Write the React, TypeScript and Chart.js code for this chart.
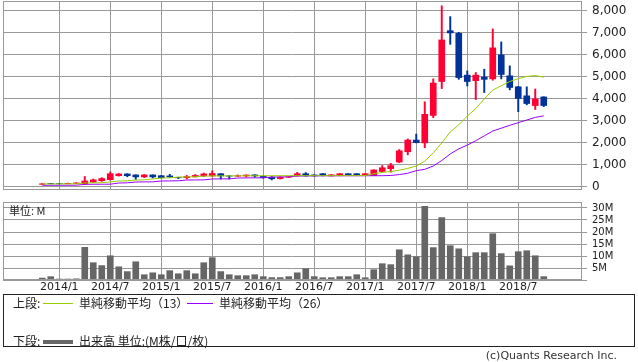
import React, { useEffect, useRef } from 'react';
import { Chart, registerables } from 'chart.js';

Chart.register(...registerables);

// ---- data ----
const months = [
  '2013/11', '2013/12',
  '2014/1', '2014/2', '2014/3', '2014/4', '2014/5', '2014/6', '2014/7', '2014/8', '2014/9', '2014/10', '2014/11', '2014/12',
  '2015/1', '2015/2', '2015/3', '2015/4', '2015/5', '2015/6', '2015/7', '2015/8', '2015/9', '2015/10', '2015/11', '2015/12',
  '2016/1', '2016/2', '2016/3', '2016/4', '2016/5', '2016/6', '2016/7', '2016/8', '2016/9', '2016/10', '2016/11', '2016/12',
  '2017/1', '2017/2', '2017/3', '2017/4', '2017/5', '2017/6', '2017/7', '2017/8', '2017/9', '2017/10', '2017/11', '2017/12',
  '2018/1', '2018/2', '2018/3', '2018/4', '2018/5', '2018/6', '2018/7', '2018/8', '2018/9', '2018/10',
];

const opens = [
  120, 155, 150, 145, 160, 130, 230, 280, 330, 510, 590, 545, 455, 545,
  510, 500, 430, 420, 460, 500, 500, 600, 500, 490, 500, 545,
  480, 440, 380, 440, 500, 600, 545, 600, 500, 510, 600, 600,
  540, 520, 700, 830, 1130, 1600, 2130, 2000, 3250, 4790, 7100, 6980,
  5080, 4830, 4990, 4910, 6000, 5050, 4550, 4140, 3700, 4090,
];
const highs = [
  150, 165, 160, 175, 190, 470, 360, 420, 680, 610, 600, 555, 560, 550,
  520, 570, 440, 520, 560, 630, 730, 600, 510, 545, 550, 550,
  500, 470, 460, 480, 660, 650, 550, 610, 560, 610, 605, 605,
  605, 780, 970, 1070, 1700, 2180, 2400, 3870, 4910, 8230, 7740, 7030,
  5270, 5200, 5350, 7180, 6590, 5500, 4570, 4550, 4450, 4100,
];
const lows = [
  110, 140, 135, 140, 150, 110, 200, 250, 310, 490, 460, 340, 420, 410,
  400, 440, 380, 360, 450, 480, 480, 360, 360, 470, 450, 440,
  400, 320, 360, 430, 490, 490, 490, 500, 495, 505, 530, 530,
  530, 515, 680, 670, 1100, 1460, 2000, 1780, 3150, 4470, 6480, 4890,
  4590, 3970, 4290, 4850, 4910, 4410, 3420, 3730, 3520, 3650,
];
const closes = [
  140, 145, 145, 160, 180, 270, 320, 380, 600, 590, 510, 455, 545, 455,
  420, 460, 415, 470, 520, 590, 610, 500, 490, 510, 540, 500,
  420, 370, 440, 460, 600, 500, 500, 510, 550, 600, 540, 540,
  600, 770, 870, 970, 1640, 2130, 2010, 3300, 4720, 6680, 7000, 4970,
  4790, 5080, 4890, 6320, 5110, 4520, 4020, 3790, 4000, 3700,
];

const ma13 = [
  132, 134, 136, 138, 140, 178, 184, 190, 227, 268, 278, 312, 322, 364,
  402, 412, 448, 455, 462, 492, 500, 502, 500, 503, 505, 506,
  507, 508, 509, 510, 510, 511, 511, 512, 512, 512, 513, 514,
  515, 600, 660, 700, 760, 840, 950, 1170, 1550, 2000, 2500, 2820,
  3220, 3560, 4000, 4400, 4600, 4790, 4920, 5020, 5060, 4990,
];
const ma26 = [
  74, 75, 76, 77, 78, 118, 120, 122, 124, 178, 186, 222, 228, 232,
  268, 273, 278, 314, 318, 322, 360, 364, 368, 404, 409, 412,
  414, 450, 455, 460, 495, 500, 502, 504, 505, 505, 506, 506,
  507, 508, 510, 520, 560, 620, 740, 800, 950, 1200, 1500, 1730,
  1900, 2100, 2320, 2540, 2670, 2800, 2920, 3040, 3160, 3230,
];

// volume in millions
const volumes = [
  0.8, 1.4, 0.4, 0.4, 0.5, 13.6, 7.2, 6.0, 10.1, 5.5, 3.5, 7.6, 2.2, 3.0,
  2.2, 3.9, 2.6, 3.9, 2.6, 7.2, 9.3, 3.5, 2.2, 1.8, 1.8, 2.2,
  1.4, 1.0, 1.0, 1.4, 3.0, 4.7, 1.4, 0.95, 0.95, 1.4, 1.4, 2.2,
  0.95, 4.3, 6.8, 6.4, 12.6, 10.5, 9.7, 30.7, 13.5, 26.0, 14.3, 13.0,
  9.7, 11.4, 11.4, 19.3, 11.0, 5.9, 11.8, 12.2, 10.1, 1.4,
];

const xTickLabels = ['2014/1', '2014/7', '2015/1', '2015/7', '2016/1', '2016/7', '2017/1', '2017/7', '2018/1', '2018/7'];
const priceTicks = [0, 1000, 2000, 3000, 4000, 5000, 6000, 7000, 8000];
const volumeTicks = [0, 5, 10, 15, 20, 25, 30];

// ---- styles ----
const UP = '#FF0033';
const DOWN = '#003399';
const GRID = '#999999';
const MA13_COLOR = '#99CC00';
const MA26_COLOR = '#9900FF';
const VOL_COLOR = '#666666';
const X_MIN = -4.62;
const X_MAX = 63.5;
const FONT = '"DejaVu Sans", sans-serif';

const framePlugin = {
  id: 'frame',
  afterDraw(chart: any) {
    const { ctx, chartArea: a } = chart;
    ctx.save();
    ctx.strokeStyle = GRID;
    ctx.lineWidth = 1;
    const l = Math.round(a.left) + 0.5;
    const t = Math.round(a.top) + 0.5;
    const r = Math.round(a.right) - 0.5;
    const b = Math.round(a.bottom) - 0.5;
    ctx.strokeRect(l, t, r - l, b - t);
    ctx.restore();
  },
};

const noPad = (s: any) => {
  s.paddingTop = 0;
  s.paddingBottom = 0;
  s.paddingLeft = 0;
  s.paddingRight = 0;
};

const candleColor = (ctx: any) => (closes[ctx.dataIndex] >= opens[ctx.dataIndex] ? UP : DOWN);

const monthTicks = () => xTickLabels.map((l) => ({ value: months.indexOf(l) }));

function PriceChart() {
  const ref = useRef<HTMLCanvasElement>(null);
  useEffect(() => {
    const chart = new Chart(ref.current as HTMLCanvasElement, {
      type: 'bar',
      data: {
        datasets: [
          {
            type: 'line',
            data: ma13.map((v, i) => ({ x: i, y: v })),
            borderColor: MA13_COLOR,
            borderWidth: 1,
            pointRadius: 0,
            tension: 0,
            order: 0,
          } as any,
          {
            type: 'line',
            data: ma26.map((v, i) => ({ x: i, y: v })),
            borderColor: MA26_COLOR,
            borderWidth: 1,
            pointRadius: 0,
            tension: 0,
            order: 0,
          } as any,
          {
            type: 'bar',
            data: months.map((_, i) => ({ x: i, y: [opens[i], closes[i]] })),
            backgroundColor: candleColor,
            barThickness: 6,
            grouped: false,
            order: 1,
          } as any,
          {
            type: 'bar',
            data: months.map((_, i) => ({ x: i, y: [lows[i], highs[i]] })),
            backgroundColor: candleColor,
            barThickness: 1.3,
            grouped: false,
            order: 2,
          } as any,
        ],
      },
      options: {
        animation: false,
        responsive: false,
        devicePixelRatio: 1,
        layout: { padding: { left: 3, top: 1, right: 0, bottom: 0 } },
        plugins: { legend: { display: false }, tooltip: { enabled: false } },
        scales: {
          x: {
            type: 'linear',
            offset: false,
            min: X_MIN,
            max: X_MAX,
            afterBuildTicks: (s: any) => { s.ticks = monthTicks(); },
            afterFit: (s: any) => { s.height = 5; noPad(s); },
            ticks: { display: false },
            grid: { color: GRID, drawTicks: false, offset: false },
            border: { display: false },
          },
          y: {
            type: 'linear',
            position: 'right',
            min: -140,
            max: 8450,
            afterBuildTicks: (s: any) => { s.ticks = priceTicks.map((v) => ({ value: v })); },
            afterFit: (s: any) => { s.width = 56; noPad(s); },
            ticks: {
              font: { family: FONT, size: 12 },
              color: '#222',
              padding: 5,
              autoSkip: false,
              callback: (v: any) => Number(v).toLocaleString('en-US'),
            },
            grid: { color: GRID, tickLength: 5 },
            border: { display: false },
          },
        },
      } as any,
      plugins: [framePlugin],
    });
    return () => chart.destroy();
  }, []);
  return <canvas ref={ref} width={638} height={195} style={{ position: 'absolute', left: 0, top: 0 }} />;
}

function VolumeChart() {
  const ref = useRef<HTMLCanvasElement>(null);
  useEffect(() => {
    const chart = new Chart(ref.current as HTMLCanvasElement, {
      type: 'bar',
      data: {
        datasets: [
          {
            data: volumes.map((v, i) => ({ x: i, y: v })),
            backgroundColor: VOL_COLOR,
            barThickness: 6,
          },
        ],
      },
      options: {
        animation: false,
        responsive: false,
        devicePixelRatio: 1,
        layout: { padding: { left: 3, top: 6, right: 0, bottom: 0 } },
        plugins: { legend: { display: false }, tooltip: { enabled: false } },
        scales: {
          x: {
            type: 'linear',
            offset: false,
            min: X_MIN,
            max: X_MAX,
            afterBuildTicks: (s: any) => { s.ticks = monthTicks(); },
            afterFit: (s: any) => { s.height = 20; noPad(s); },
            ticks: {
              font: { family: FONT, size: 11 },
              color: '#222',
              padding: 1,
              maxRotation: 0,
              autoSkip: false,
              callback: (v: any) => months[v as number],
            },
            grid: { color: GRID, drawTicks: false, offset: false },
            border: { display: false },
          },
          y: {
            type: 'linear',
            position: 'right',
            min: 0,
            max: 32.5,
            afterBuildTicks: (s: any) => { s.ticks = volumeTicks.map((v) => ({ value: v })); },
            afterFit: (s: any) => { s.width = 56; noPad(s); },
            ticks: {
              font: { family: FONT, size: 10 },
              color: '#222',
              padding: 5,
              autoSkip: false,
              callback: (v: any) => (v === 0 ? '' : `${v}M`),
            },
            grid: { color: GRID, tickLength: 5 },
            border: { display: false },
          },
        },
      } as any,
      plugins: [framePlugin],
    });
    return () => chart.destroy();
  }, []);
  return <canvas ref={ref} width={638} height={104} style={{ position: 'absolute', left: 0, top: 196 }} />;
}

const JP = '"Noto Sans CJK JP", "DejaVu Sans", sans-serif';

export default function App() {
  return (
    <div style={{ position: 'fixed', left: 0, top: 0, width: 638, height: 362, background: '#fff', overflow: 'hidden', fontFamily: JP }}>
      <PriceChart />
      <VolumeChart />
      <div style={{ position: 'absolute', left: 9, top: 203, fontSize: 11, lineHeight: '14px', color: '#222' }}>単位: M</div>
      <div style={{ position: 'absolute', left: 3, top: 294, width: 632, height: 53, border: '1px solid #222', boxSizing: 'border-box' }} />
      <div style={{ position: 'absolute', left: 13, top: 295, fontSize: 12, lineHeight: '16px', color: '#222' }}>上段:</div>
      <div style={{ position: 'absolute', left: 43, top: 303, width: 30, height: 1, background: MA13_COLOR }} />
      <div style={{ position: 'absolute', left: 79, top: 295, fontSize: 12, lineHeight: '16px', color: '#222' }}>単純移動平均（13）</div>
      <div style={{ position: 'absolute', left: 187, top: 303, width: 26, height: 1, background: MA26_COLOR }} />
      <div style={{ position: 'absolute', left: 219, top: 295, fontSize: 12, lineHeight: '16px', color: '#222' }}>単純移動平均（26）</div>
      <div style={{ position: 'absolute', left: 13, top: 333, fontSize: 12, lineHeight: '16px', color: '#222' }}>下段:</div>
      <div style={{ position: 'absolute', left: 43, top: 340, width: 30, height: 4, background: VOL_COLOR }} />
      <div style={{ position: 'absolute', left: 79, top: 333, fontSize: 12, lineHeight: '16px', color: '#222' }}>出来高 単位:(M株/口/枚)</div>
      <div style={{ position: 'absolute', right: 21, top: 349, fontSize: 11, lineHeight: '14px', color: '#333', fontFamily: FONT }}>(c)Quants Research Inc.</div>
    </div>
  );
}
